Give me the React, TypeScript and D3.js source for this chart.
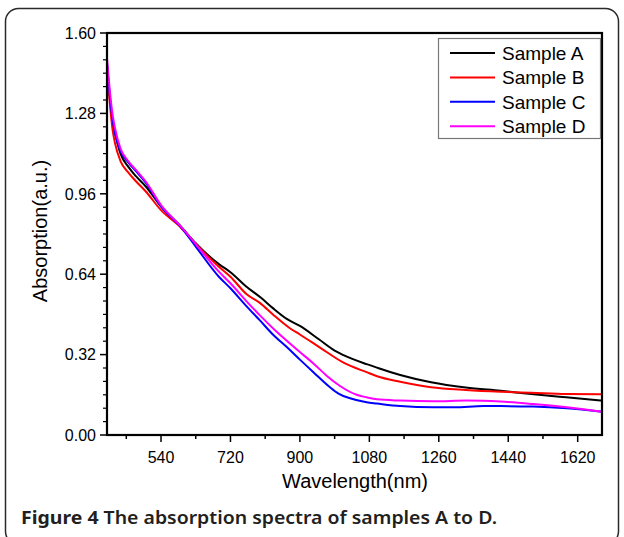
import React from "react";
import * as d3 from "d3";

const seriesNames = ["Sample A", "Sample B", "Sample C", "Sample D"];
const seriesColors = ["#000000", "#ff0000", "#0000ff", "#ff00ff"];

const wlA = [400, 408, 414, 421, 435, 455, 475, 500, 540, 590, 630, 690, 720, 760, 800, 830, 866, 900, 950, 990, 1013, 1073, 1100, 1160, 1240, 1330, 1420, 1500, 1590, 1683];
const valA = [1.47, 1.33, 1.25, 1.2, 1.12, 1.068, 1.03, 0.99, 0.91, 0.832, 0.763, 0.68, 0.648, 0.592, 0.545, 0.505, 0.462, 0.434, 0.38, 0.336, 0.318, 0.282, 0.268, 0.239, 0.21, 0.189, 0.176, 0.163, 0.15, 0.137];

const wlB = [400, 408, 414, 421, 435, 455, 475, 500, 540, 590, 630, 690, 720, 762, 797, 830, 874, 900, 952, 1013, 1073, 1100, 1160, 1240, 1330, 1420, 1500, 1590, 1683];
const valB = [1.46, 1.31, 1.22, 1.16, 1.09, 1.045, 1.01, 0.97, 0.895, 0.828, 0.76, 0.67, 0.63, 0.56, 0.525, 0.48, 0.425, 0.4, 0.348, 0.288, 0.25, 0.234, 0.212, 0.19, 0.179, 0.172, 0.168, 0.163, 0.162];

const wlC = [400, 408, 414, 421, 435, 455, 475, 500, 540, 590, 630, 690, 720, 760, 797, 830, 866, 900, 935, 978, 1000, 1030, 1073, 1100, 1160, 1246, 1300, 1376, 1420, 1505, 1592, 1683];
const valC = [1.48, 1.34, 1.26, 1.2, 1.13, 1.085, 1.05, 1.005, 0.91, 0.83, 0.75, 0.63, 0.584, 0.515, 0.455, 0.4, 0.35, 0.3, 0.25, 0.19, 0.165, 0.146, 0.13, 0.125, 0.115, 0.11, 0.11, 0.115, 0.115, 0.113, 0.106, 0.093];

const wlD = [400, 408, 414, 421, 435, 455, 475, 500, 540, 590, 630, 690, 720, 760, 797, 830, 866, 900, 935, 970, 1004, 1047, 1073, 1100, 1160, 1246, 1333, 1420, 1505, 1592, 1683];
const valD = [1.5, 1.36, 1.28, 1.22, 1.14, 1.09, 1.055, 1.01, 0.915, 0.832, 0.76, 0.65, 0.604, 0.535, 0.475, 0.425, 0.375, 0.33, 0.285, 0.235, 0.195, 0.16, 0.15, 0.142, 0.137, 0.134, 0.137, 0.133, 0.123, 0.11, 0.093];

const xMajorTicks = [540, 720, 900, 1080, 1260, 1440, 1620];
const yMajorTicks = [0, 0.32, 0.64, 0.96, 1.28, 1.6];
const xTitle = "Wavelength(nm)";
const yTitle = "Absorption(a.u.)";
const captionBold = "Figure 4";
const captionRest = " The absorption spectra of samples A to D.";

const W = 624;
const H = 537;
const L = 107, R = 602, T = 33, B = 435;

export default function App() {
  const x = d3.scaleLinear().domain([400, 1683]).range([L, R]);
  const y = d3.scaleLinear().domain([0, 1.6]).range([B, T]);
  const line = d3
    .line<[number, number]>()
    .x((d) => x(d[0]))
    .y((d) => y(d[1]))
    .curve(d3.curveMonotoneX);

  const wls = [wlA, wlB, wlC, wlD];
  const vals = [valA, valB, valC, valD];
  const series = wls.map((w, i) => w.map((v, j) => [v, vals[i][j]] as [number, number]));

  const xMinor: number[] = [];
  for (let v = 450; v < 1683; v += 180) xMinor.push(v);
  const yMinor: number[] = [];
  for (let k = 0; k < 5; k++) {
    for (let m = 1; m < 6; m++) yMinor.push(k * 0.32 + (m * 0.32) / 6);
  }

  const font = "Arial, 'Liberation Sans', Helvetica, sans-serif";
  const tf = { fontFamily: font };

  return (
    <svg
      width={W}
      height={H}
      style={{ position: "absolute", left: 0, top: 0, background: "#fff" }}
    >
      <rect x={0} y={0} width={W} height={H} fill="#fff" />
      <rect x={5.5} y={8.5} width={613} height={536} rx={13} ry={13} fill="none" stroke="#2a2a2a" strokeWidth={1.5} />

      <defs>
        <clipPath id="plotclip">
          <rect x={L} y={T} width={R - L} height={B - T} />
        </clipPath>
      </defs>
      <g clipPath="url(#plotclip)">
        {series.map((s, i) => (
          <path key={i} d={line(s) || ""} fill="none" stroke={seriesColors[i]} strokeWidth={2} />
        ))}
      </g>

      {/* frame */}
      <rect x={L} y={T} width={R - L} height={B - T} fill="none" stroke="#000" strokeWidth={2.2} />

      {/* x ticks */}
      {xMajorTicks.map((v) => (
        <g key={"xm" + v}>
          <line x1={x(v)} x2={x(v)} y1={B} y2={B + 7} stroke="#000" strokeWidth={1.5} />
          <text x={x(v)} y={463} textAnchor="middle" fontSize={16} fill="#000" style={tf}>
            {v}
          </text>
        </g>
      ))}
      {xMinor.map((v) => (
        <line key={"xn" + v} x1={x(v)} x2={x(v)} y1={B} y2={B + 4} stroke="#000" strokeWidth={1.5} />
      ))}

      {/* y ticks */}
      {yMajorTicks.map((v) => (
        <g key={"ym" + v}>
          <line x1={L - 7} x2={L} y1={y(v)} y2={y(v)} stroke="#000" strokeWidth={1.5} />
          <text x={96} y={y(v)} dy="0.36em" textAnchor="end" fontSize={16} fill="#000" style={tf}>
            {v.toFixed(2)}
          </text>
        </g>
      ))}
      {yMinor.map((v, i) => (
        <line key={"yn" + i} x1={L - 4} x2={L} y1={y(v)} y2={y(v)} stroke="#000" strokeWidth={1.2} />
      ))}

      {/* axis titles */}
      <text x={355} y={488} textAnchor="middle" fontSize={20} fill="#000" style={tf}>
        {xTitle}
      </text>
      <text
        transform={`translate(47, ${(T + B) / 2 - 3}) rotate(-90)`}
        textAnchor="middle"
        fontSize={20}
        fill="#000"
        style={tf}
      >
        {yTitle}
      </text>

      {/* legend */}
      <rect x={438.5} y={38.5} width={162} height={100} fill="#fff" stroke="#777" strokeWidth={1.2} />
      {seriesNames.map((n, i) => {
        const yy = 53 + i * 24.4;
        return (
          <g key={n}>
            <line x1={450} x2={495} y1={yy} y2={yy} stroke={seriesColors[i]} strokeWidth={2} />
            <text x={502} y={yy} dy="0.36em" fontSize={19} fill="#000" style={tf}>
              {n}
            </text>
          </g>
        );
      })}

      {/* caption */}
      <text
        x={21}
        y={524}
        fontSize={17.5}
        fill="#231f20"
        style={{ fontFamily: "'Noto Sans', 'Open Sans', sans-serif" }}
        textLength={476}
        lengthAdjust="spacingAndGlyphs"
      >
        <tspan fontWeight={700}>{captionBold}</tspan>
        <tspan fontWeight={600}>{captionRest}</tspan>
      </text>
    </svg>
  );
}
